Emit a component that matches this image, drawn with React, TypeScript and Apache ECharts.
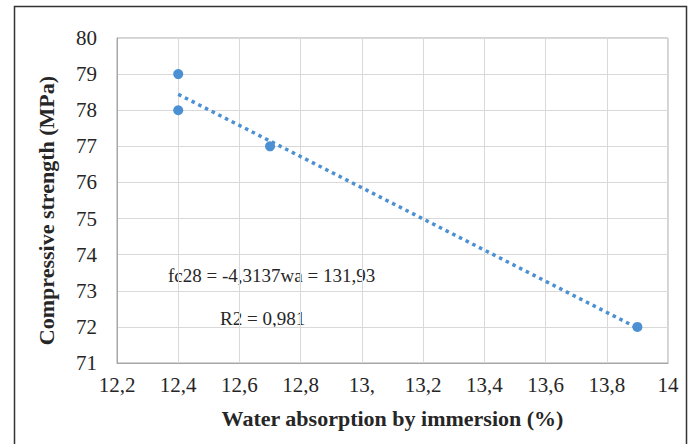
import React, { useEffect, useRef } from "react";
import * as echarts from "echarts";

// Measured specimens: water absorption (%) vs 28-day compressive strength (MPa)
const waterAbsorption = [12.4, 12.4, 12.7, 13.9];
const compressiveStrength = [79, 78, 77, 72];

// Axis tick labels as printed (decimal comma)
const xTickLabels = ["12,2", "12,4", "12,6", "12,8", "13,", "13,2", "13,4", "13,6", "13,8", "14"];
const yTicks = [71, 72, 73, 74, 75, 76, 77, 78, 79, 80];

const equationText = "fc28 = -4,3137wa = 131,93";
const r2Text = "R2 = 0,981";

const BLUE = "#4a90d2";
const FONT = "Liberation Serif";
const INK = "#262626";

// Least-squares fit of strength against absorption
function linearFit(xs: number[], ys: number[]) {
  const n = xs.length;
  const mx = xs.reduce((a, b) => a + b, 0) / n;
  const my = ys.reduce((a, b) => a + b, 0) / n;
  let sxy = 0;
  let sxx = 0;
  for (let i = 0; i < n; i++) {
    sxy += (xs[i] - mx) * (ys[i] - my);
    sxx += (xs[i] - mx) * (xs[i] - mx);
  }
  const slope = sxy / sxx;
  return { slope, intercept: my - slope * mx };
}

export default function App() {
  const ref = useRef<HTMLDivElement>(null);

  useEffect(() => {
    if (!ref.current) return;
    const chart = echarts.init(ref.current, undefined, { renderer: "svg" });

    const points = waterAbsorption.map((x, i) => [x, compressiveStrength[i]]);
    const { slope, intercept } = linearFit(waterAbsorption, compressiveStrength);
    const xMin = Math.min(...waterAbsorption);
    const xMax = Math.max(...waterAbsorption);
    const trend = [
      [xMin, slope * xMin + intercept],
      [xMax, slope * xMax + intercept],
    ];

    chart.setOption({
      animation: false,
      backgroundColor: "#ffffff",
      textStyle: { fontFamily: FONT },
      grid: {
        left: 117,
        top: 38,
        right: 22,
        bottom: 81,
        show: true,
        borderColor: "#a6a6a6",
        borderWidth: 1,
      },
      xAxis: {
        type: "value",
        min: 12.2,
        max: 14,
        interval: 0.2,
        name: "Water absorption by immersion (%)",
        nameLocation: "middle",
        nameGap: 44,
        nameTextStyle: { fontFamily: FONT, fontWeight: "bold", fontSize: 22, color: INK },
        axisLine: { show: true, lineStyle: { color: "#a6a6a6", width: 1 } },
        axisTick: { show: false },
        axisLabel: {
          margin: 11,
          fontFamily: FONT,
          fontSize: 21,
          color: INK,
          formatter: (v: number) => xTickLabels[Math.round((v - 12.2) / 0.2)] ?? "",
        },
        splitLine: { show: true, lineStyle: { color: "#d9d9d9", width: 1 } },
      },
      yAxis: {
        type: "value",
        min: yTicks[0],
        max: yTicks[yTicks.length - 1],
        interval: 1,
        name: "Compressive strength (MPa)",
        nameLocation: "middle",
        nameGap: 60,
        nameTextStyle: {
          fontFamily: FONT,
          fontWeight: "bold",
          fontSize: 22,
          color: INK,
          padding: [0, 20, 0, 0],
        },
        axisLine: { show: true, lineStyle: { color: "#a6a6a6", width: 1 } },
        axisTick: { show: false },
        axisLabel: { margin: 20, fontFamily: FONT, fontSize: 21, color: INK },
        splitLine: { show: true, lineStyle: { color: "#d9d9d9", width: 1 } },
      },
      series: [
        {
          type: "line",
          data: trend,
          symbol: "none",
          z: 2,
          lineStyle: { color: BLUE, width: 3.5, type: [3.5, 4], cap: "butt" },
        },
        {
          type: "scatter",
          data: points,
          symbol: "circle",
          symbolSize: 10,
          z: 3,
          itemStyle: { color: BLUE, opacity: 1 },
        },
      ],
      graphic: [
        {
          type: "rect",
          shape: { x: 14.5, y: 6.5, width: 672, height: 460 },
          style: { fill: "none", stroke: "#333333", lineWidth: 1.5 },
          silent: true,
        },
        {
          type: "text",
          x: 168,
          y: 275,
          style: {
            text: equationText,
            fontFamily: FONT,
            fontSize: 19,
            fill: INK,
            verticalAlign: "middle",
          },
        },
        {
          type: "text",
          x: 220,
          y: 318,
          style: {
            text: r2Text,
            fontFamily: FONT,
            fontSize: 19,
            fill: INK,
            verticalAlign: "middle",
          },
        },
      ],
    });

    return () => chart.dispose();
  }, []);

  return (
    <div
      ref={ref}
      style={{ position: "fixed", left: 0, top: 0, width: 690, height: 444, background: "#fff" }}
    />
  );
}
